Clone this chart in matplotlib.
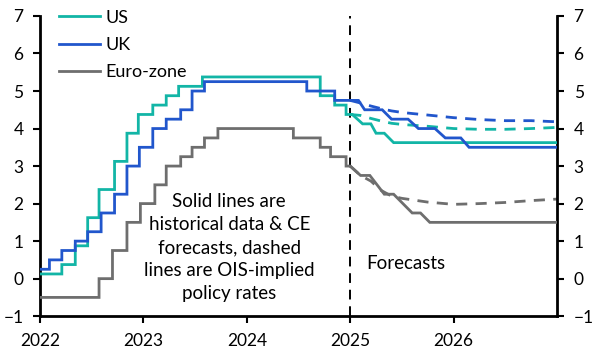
import numpy as np
import matplotlib
matplotlib.use("Agg")
import matplotlib.pyplot as plt

plt.rcParams["font.family"] = ["Lato", "DejaVu Sans"]

# ── colours ────────────────────────────────────────────────
TEAL = "#12B5A6"
BLUE = "#2156CC"
GREY = "#6E6E6E"

# ── policy rates: history (date of change, new level) ──────
us_hist_dates = [2022.0, 2022.21, 2022.34, 2022.46, 2022.57, 2022.72, 2022.84, 2022.95,
                 2023.09, 2023.22, 2023.34, 2023.57, 2024.71, 2024.85, 2024.96]
us_hist_rates = [0.125, 0.375, 0.875, 1.625, 2.375, 3.125, 3.875, 4.375,
                 4.625, 4.875, 5.125, 5.375, 4.875, 4.625, 4.375]

uk_hist_dates = [2022.0, 2022.09, 2022.21, 2022.34, 2022.46, 2022.59, 2022.72, 2022.84,
                 2022.96, 2023.09, 2023.22, 2023.36, 2023.47, 2023.59, 2024.58, 2024.85]
uk_hist_rates = [0.25, 0.5, 0.75, 1.0, 1.25, 1.75, 2.25, 3.0,
                 3.5, 4.0, 4.25, 4.5, 5.0, 5.25, 5.0, 4.75]

eu_hist_dates = [2022.0, 2022.57, 2022.70, 2022.84, 2022.97, 2023.11, 2023.22, 2023.36,
                 2023.47, 2023.59, 2023.72, 2024.45, 2024.71, 2024.81, 2024.96]
eu_hist_rates = [-0.5, 0.0, 0.75, 1.5, 2.0, 2.5, 3.0, 3.25,
                 3.5, 3.75, 4.0, 3.75, 3.5, 3.25, 3.0]

# ── CE forecasts ───────────────────────────────────────────
us_fc_dates = [2025.02, 2025.12, 2025.20, 2025.25, 2025.33, 2025.42, 2027.0]
us_fc_rates = [4.375, 4.125, 4.125, 3.875, 3.875, 3.625, 3.625]

uk_fc_dates = [2025.08, 2025.14, 2025.31, 2025.40, 2025.56, 2025.66,
               2025.82, 2025.92, 2026.07, 2026.15, 2027.0]
uk_fc_rates = [4.75, 4.5, 4.5, 4.25, 4.25, 4.0, 4.0, 3.75, 3.75, 3.5, 3.5]

eu_fc_dates = [2025.0, 2025.10, 2025.19, 2025.33, 2025.42, 2025.60, 2025.68, 2025.77, 2027.0]
eu_fc_rates = [3.0, 2.75, 2.75, 2.25, 2.25, 1.75, 1.75, 1.5, 1.5]

# ── OIS-implied paths ──────────────────────────────────────
ois_dates = [2025.0, 2025.1, 2025.2, 2025.3, 2025.4, 2025.5, 2025.6, 2025.75,
             2026.0, 2026.25, 2026.5, 2026.75, 2027.0]
us_ois = [4.375, 4.35, 4.27, 4.2, 4.14, 4.11, 4.09, 4.06, 4.0, 3.98, 3.98, 4.0, 4.03]
uk_ois = [4.75, 4.68, 4.6, 4.53, 4.47, 4.43, 4.4, 4.36, 4.29, 4.24, 4.21, 4.21, 4.18]
eu_ois = [3.0, 2.75, 2.6, 2.35, 2.2, 2.14, 2.1, 2.04, 1.98, 2.0, 2.03, 2.08, 2.12]

year_ticks = [2022, 2023, 2024, 2025, 2026]
forecast_start = 2025.0


def step_path(dates, rates, fc_dates, fc_rates):
    """계단형 과거 경로 + 선형 전망 경로를 하나의 선으로 합친다."""
    xs, ys = [dates[0]], [rates[0]]
    for d, r in zip(dates[1:], rates[1:]):
        xs += [d, d]
        ys += [ys[-1], r]
    xs += list(fc_dates)
    ys += list(fc_rates)
    return np.array(xs), np.array(ys)


fig = plt.figure(figsize=(6.08, 3.63), dpi=100)
ax = fig.add_axes([0.066, 0.129, 0.850, 0.827])

series = [
    ("US", TEAL, us_hist_dates, us_hist_rates, us_fc_dates, us_fc_rates, us_ois),
    ("UK", BLUE, uk_hist_dates, uk_hist_rates, uk_fc_dates, uk_fc_rates, uk_ois),
    ("Euro-zone", GREY, eu_hist_dates, eu_hist_rates, eu_fc_dates, eu_fc_rates, eu_ois),
]

for label, color, hd, hr, fd, fr, ois in series:
    x, y = step_path(hd, hr, fd, fr)
    ax.plot(x, y, color=color, lw=2.0, label=label, solid_joinstyle="miter", zorder=3)
    ax.plot(ois_dates, ois, color=color, lw=2.0, linestyle=(0, (4, 3)), zorder=2)

ax.axvline(forecast_start, color="black", lw=1.4, linestyle=(0, (5, 3.5)), zorder=1)

ax.set_xlim(2022, 2027)
ax.set_ylim(-1, 7)
ax.set_xticks(year_ticks)
ax.set_xticklabels([str(y) for y in year_ticks])
ax.set_yticks(range(-1, 8))

ax.spines["top"].set_visible(False)
for side in ("left", "right", "bottom"):
    ax.spines[side].set_linewidth(2.0)

ax.tick_params(axis="both", direction="out", length=5, width=1.5, labelsize=12.5,
               colors="black")
ax.tick_params(axis="y", right=True, labelright=True, pad=7)
ax.tick_params(axis="x", pad=7)

ax.text(2023.83, 0.83,
        "Solid lines are\nhistorical data & CE\nforecasts, dashed\nlines are OIS-implied\npolicy rates",
        ha="center", va="center", fontsize=13.5, linespacing=1.42)
ax.text(2025.16, 0.41, "Forecasts", ha="left", va="center", fontsize=13.5)

ax.legend(loc="upper left", bbox_to_anchor=(0.022, 1.045), frameon=False,
          fontsize=13, handlelength=2.3, handletextpad=0.3, labelspacing=0.62,
          borderaxespad=0)

fig.savefig("out.png", dpi=100)
